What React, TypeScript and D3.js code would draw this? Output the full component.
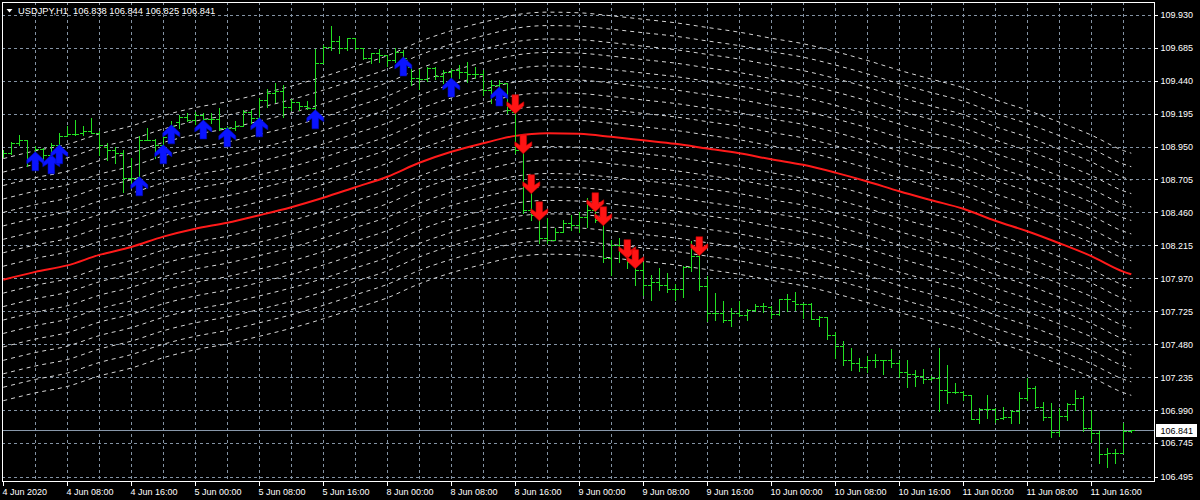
import React from 'react';
import * as d3 from 'd3';

const W = 1200;
const H = 500;

const titleText = 'USDJPY,H1  106.838 106.844 106.825 106.841';
const currentPrice = 106.841;

const priceTicks = [109.930, 109.685, 109.440, 109.195, 108.950, 108.705, 108.460, 108.215, 107.970, 107.725, 107.480, 107.235, 106.990, 106.745, 106.495];

const timeLabels = ['4 Jun 2020', '4 Jun 08:00', '4 Jun 16:00', '5 Jun 00:00', '5 Jun 08:00', '5 Jun 16:00', '8 Jun 00:00', '8 Jun 08:00', '8 Jun 16:00', '9 Jun 00:00', '9 Jun 08:00', '9 Jun 16:00', '10 Jun 00:00', '10 Jun 08:00', '10 Jun 16:00', '11 Jun 00:00', '11 Jun 08:00', '11 Jun 16:00'];
const barsPerLabel = 8;
const barsPerGrid = 4;

const opens = [
  108.888, 108.901, 108.975, 109.000, 108.851, 108.933, 108.888, 108.963, 109.025, 109.042,
  109.050, 109.062, 109.054, 108.950, 108.925, 108.901, 108.718, 108.718, 109.000, 109.000,
  108.963, 109.052, 109.133, 109.173, 109.148, 109.185, 109.155, 109.155, 109.089, 109.089,
  109.104, 109.208, 109.163, 109.297, 109.349, 109.359, 109.245, 109.284, 109.252, 109.235,
  109.574, 109.692, 109.737, 109.680, 109.755, 109.680, 109.606, 109.643, 109.631, 109.594,
  109.653, 109.544, 109.458, 109.450, 109.534, 109.475, 109.504, 109.519, 109.504, 109.490,
  109.490, 109.371, 109.408, 109.423, 109.210, 108.925, 108.480, 108.443, 108.272, 108.257,
  108.317, 108.384, 108.369, 108.428, 108.480, 108.406, 108.124, 108.220, 108.184, 108.094,
  108.034, 107.923, 107.945, 107.923, 107.893, 107.893, 108.057, 108.134, 107.910, 107.715,
  107.715, 107.658, 107.713, 107.700, 107.737, 107.767, 107.757, 107.708, 107.817, 107.799,
  107.782, 107.782, 107.668, 107.683, 107.552, 107.470, 107.366, 107.342, 107.312, 107.366,
  107.361, 107.361, 107.337, 107.272, 107.260, 107.242, 107.223, 107.230, 107.136, 107.123,
  107.123, 107.106, 106.926, 107.000, 107.000, 106.933, 106.941, 106.980, 107.082, 107.151,
  107.015, 106.938, 106.826, 106.950, 107.032, 107.082, 106.859, 106.817, 106.661, 106.674,
  106.674, 106.838,
];

const highs = [
  108.925, 108.987, 109.037, 109.000, 108.955, 108.940, 108.978, 109.050, 109.099, 109.148,
  109.099, 109.161, 109.062, 108.975, 108.950, 108.925, 108.864, 109.025, 109.087, 109.005,
  109.052, 109.136, 109.185, 109.198, 109.208, 109.200, 109.200, 109.237, 109.099, 109.136,
  109.223, 109.223, 109.312, 109.378, 109.423, 109.408, 109.304, 109.284, 109.291, 109.675,
  109.705, 109.846, 109.772, 109.755, 109.755, 109.680, 109.648, 109.673, 109.631, 109.680,
  109.668, 109.544, 109.525, 109.544, 109.539, 109.519, 109.525, 109.556, 109.581, 109.544,
  109.519, 109.445, 109.445, 109.423, 109.210, 108.987, 108.607, 108.458, 108.421, 108.346,
  108.406, 108.443, 108.465, 108.569, 108.495, 108.406, 108.257, 108.272, 108.198, 108.124,
  108.094, 107.997, 108.049, 108.012, 107.930, 108.064, 108.245, 108.146, 107.985, 107.864,
  107.799, 107.752, 107.799, 107.745, 107.782, 107.789, 107.762, 107.817, 107.856, 107.869,
  107.789, 107.789, 107.688, 107.683, 107.569, 107.502, 107.453, 107.374, 107.391, 107.411,
  107.366, 107.446, 107.366, 107.366, 107.292, 107.297, 107.242, 107.453, 107.329, 107.188,
  107.131, 107.106, 107.008, 107.099, 107.008, 107.015, 106.990, 107.123, 107.230, 107.173,
  107.049, 107.045, 107.008, 107.040, 107.138, 107.094, 106.990, 106.834, 106.711, 106.703,
  106.896, 106.844,
];

const lows = [
  108.871, 108.896, 108.963, 108.802, 108.844, 108.836, 108.866, 108.963, 109.025, 109.037,
  109.037, 109.050, 108.888, 108.851, 108.827, 108.609, 108.679, 108.654, 109.000, 108.864,
  108.950, 109.050, 109.087, 109.136, 109.119, 109.148, 109.126, 109.074, 109.037, 109.074,
  109.104, 109.124, 109.163, 109.245, 109.284, 109.173, 109.223, 109.218, 109.228, 109.223,
  109.569, 109.668, 109.643, 109.668, 109.673, 109.599, 109.574, 109.581, 109.549, 109.581,
  109.569, 109.408, 109.376, 109.440, 109.450, 109.421, 109.408, 109.458, 109.432, 109.458,
  109.334, 109.275, 109.371, 109.200, 108.901, 108.458, 108.406, 108.235, 108.235, 108.257,
  108.317, 108.331, 108.317, 108.354, 108.391, 108.094, 107.997, 108.094, 108.049, 107.923,
  107.849, 107.812, 107.886, 107.871, 107.812, 107.834, 108.022, 107.886, 107.651, 107.663,
  107.643, 107.613, 107.688, 107.658, 107.725, 107.717, 107.676, 107.700, 107.725, 107.737,
  107.676, 107.668, 107.613, 107.520, 107.379, 107.329, 107.287, 107.279, 107.272, 107.312,
  107.255, 107.312, 107.238, 107.163, 107.173, 107.193, 107.213, 106.982, 107.040, 107.119,
  107.064, 106.921, 106.891, 106.933, 106.901, 106.921, 106.891, 106.896, 107.064, 107.008,
  106.915, 106.792, 106.797, 106.915, 106.990, 106.834, 106.752, 106.594, 106.570, 106.594,
  106.668, 106.825,
];

const closes = [
  108.901, 108.975, 109.000, 108.851, 108.933, 108.888, 108.963, 109.025, 109.042, 109.042,
  109.062, 109.054, 108.963, 108.925, 108.901, 108.718, 108.718, 109.000, 109.000, 108.963,
  109.022, 109.104, 109.173, 109.148, 109.185, 109.155, 109.155, 109.089, 109.089, 109.104,
  109.208, 109.163, 109.297, 109.349, 109.359, 109.245, 109.284, 109.252, 109.235, 109.574,
  109.692, 109.737, 109.680, 109.755, 109.680, 109.606, 109.643, 109.631, 109.594, 109.653,
  109.608, 109.458, 109.450, 109.534, 109.475, 109.504, 109.519, 109.504, 109.490, 109.490,
  109.371, 109.408, 109.423, 109.223, 108.925, 108.480, 108.443, 108.272, 108.257, 108.317,
  108.384, 108.369, 108.428, 108.480, 108.406, 108.124, 108.220, 108.184, 108.094, 108.034,
  107.923, 107.945, 107.923, 107.893, 107.893, 108.057, 108.134, 107.910, 107.715, 107.715,
  107.658, 107.713, 107.700, 107.737, 107.767, 107.767, 107.708, 107.817, 107.817, 107.782,
  107.782, 107.668, 107.683, 107.552, 107.470, 107.366, 107.342, 107.312, 107.366, 107.361,
  107.361, 107.337, 107.272, 107.260, 107.242, 107.223, 107.230, 107.136, 107.123, 107.123,
  107.106, 106.926, 107.000, 107.000, 106.926, 106.941, 106.980, 107.082, 107.151, 107.015,
  106.938, 106.826, 106.950, 107.032, 107.082, 106.859, 106.817, 106.661, 106.674, 106.674,
  106.838, 106.841,
];

// centre line (red) read at every 4th bar, plus the last bar
const maBars = [0, 4, 8, 12, 16, 20, 24, 28, 32, 36, 40, 44, 48, 52, 56, 60, 64, 68, 72, 76, 80, 84, 88, 92, 96, 100, 104, 108, 112, 116, 120, 124, 128, 132, 136, 140, 141];
const maValues = [107.960, 108.018, 108.066, 108.144, 108.203, 108.280, 108.339, 108.383, 108.439, 108.499, 108.569, 108.647, 108.725, 108.829, 108.911, 108.974, 109.029, 109.049, 109.044, 109.022, 108.996, 108.970, 108.935, 108.900, 108.855, 108.814, 108.756, 108.690, 108.617, 108.551, 108.487, 108.398, 108.320, 108.231, 108.135, 108.020, 108.000];
const bandStep = 0.1;
const bandCount = 9;

// signal arrows: bar index and price of the arrow tip
const upArrowBars = [4, 6, 7, 17, 20, 21, 25, 28, 32, 39, 50, 56, 62];
const upArrowPrices = [108.911, 108.888, 108.963, 108.725, 108.963, 109.111, 109.148, 109.089, 109.163, 109.223, 109.616, 109.460, 109.393];
const downArrowBars = [64, 65, 66, 67, 74, 75, 78, 79, 87];
const downArrowPrices = [109.193, 108.896, 108.599, 108.398, 108.465, 108.361, 108.116, 108.042, 108.138];

const FONT = '"Liberation Sans", Arial, sans-serif';
const BAR_COLOR = '#22e022';
const GRID_COLOR = '#8493a4';
const BAND_COLOR = '#d6d6d6';

const plotLeft = 2;
const plotTop = 2;
const plotRight = 1154;
const plotBottom = 481;

export default function App() {
  const n = opens.length;
  const x = d3.scaleLinear().domain([0, n - 1]).range([3.3, 3.3 + 8 * (n - 1)]);
  const y = d3.scaleLinear().domain([106.495, 109.930]).range([476.7, 14.7]);
  const cx = (i: number) => Math.round(x(i)) + 0.5;
  const cy = (p: number) => Math.round(y(p)) + 0.5;

  const maPts = maBars.map((b, i) => [b, maValues[i]] as [number, number]);
  const lineGen = (offset: number) =>
    d3
      .line<[number, number]>()
      .x((d) => x(d[0]))
      .y((d) => y(d[1] + offset))
      .curve(d3.curveMonotoneX)(maPts) || '';

  const bandOffsets: number[] = [];
  for (let k = 1; k <= bandCount; k++) {
    bandOffsets.push(k * bandStep);
    bandOffsets.push(-k * bandStep);
  }

  const gridBars: number[] = [];
  for (let b = barsPerGrid; b < n; b += barsPerGrid) gridBars.push(b);

  const upArrow = 'M0,0 L8.5,8 L8.5,12 L3.3,8.6 L3.3,19 L-3.3,19 L-3.3,8.6 L-8.5,12 L-8.5,8 Z';
  const downArrow = 'M0,0 L8.5,-8 L8.5,-12 L3.3,-8.6 L3.3,-19 L-3.3,-19 L-3.3,-8.6 L-8.5,-12 L-8.5,-8 Z';

  const curY = cy(currentPrice);

  return (
    <svg
      width={W}
      height={H}
      style={{ position: 'absolute', left: 0, top: 0, display: 'block', background: '#000' }}
      fontFamily={FONT}
    >
      <defs>
        <clipPath id="plotClip">
          <rect x={plotLeft + 1} y={plotTop + 1} width={plotRight - plotLeft - 1} height={plotBottom - plotTop - 1} />
        </clipPath>
      </defs>
      <rect x={0} y={0} width={W} height={H} fill="#000" />

      {/* grid */}
      <g stroke={GRID_COLOR} strokeWidth={1} strokeDasharray="3 3" shapeRendering="crispEdges">
        {priceTicks.map((p) => (
          <line key={'h' + p} x1={plotLeft} x2={plotRight} y1={cy(p)} y2={cy(p)} />
        ))}
        {gridBars.map((b) => (
          <line key={'v' + b} x1={cx(b)} x2={cx(b)} y1={plotTop} y2={plotBottom} />
        ))}
      </g>

      <g clipPath="url(#plotClip)">
        {/* envelope bands */}
        <g fill="none" stroke={BAND_COLOR} strokeWidth={1} strokeDasharray="4 4">
          {bandOffsets.map((o) => (
            <path key={'b' + o} d={lineGen(o)} />
          ))}
        </g>
        {/* centre line */}
        <path d={lineGen(0)} fill="none" stroke="#ff1a1a" strokeWidth={2} />

        {/* current price line */}
        <line x1={plotLeft} x2={plotRight} y1={curY} y2={curY} stroke="#8898aa" strokeWidth={1} shapeRendering="crispEdges" />

        {/* OHLC bars */}
        <g stroke={BAR_COLOR} strokeWidth={1} shapeRendering="crispEdges">
          {opens.map((o, i) => {
            const xi = cx(i);
            const hi = Math.max(highs[i], o, closes[i]);
            const lo = Math.min(lows[i], o, closes[i]);
            return (
              <g key={'bar' + i}>
                <line x1={xi} x2={xi} y1={cy(hi) - 0.5} y2={cy(lo) + 0.5} />
                <line x1={xi - 3.5} x2={xi} y1={cy(o)} y2={cy(o)} />
                <line x1={xi} x2={xi + 3.5} y1={cy(closes[i])} y2={cy(closes[i])} />
              </g>
            );
          })}
        </g>

        {/* arrows */}
        {upArrowBars.map((b, i) => (
          <path key={'ua' + i} d={upArrow} transform={`translate(${x(b)},${y(upArrowPrices[i])})`} fill="#0a14ff" stroke="#0008c0" strokeWidth={0.6} />
        ))}
        {downArrowBars.map((b, i) => (
          <path key={'da' + i} d={downArrow} transform={`translate(${x(b)},${y(downArrowPrices[i])})`} fill="#ff1414" stroke="#c00000" strokeWidth={0.6} />
        ))}
      </g>

      {/* frame */}
      <rect x={plotLeft + 0.5} y={plotTop + 0.5} width={plotRight - plotLeft} height={plotBottom - plotTop} fill="none" stroke="#ffffff" strokeWidth={1} shapeRendering="crispEdges" />

      {/* price axis */}
      <g fill="#ffffff" fontSize={9}>
        {priceTicks.map((p) => (
          <g key={'pl' + p}>
            <line x1={plotRight} x2={plotRight + 4} y1={cy(p)} y2={cy(p)} stroke="#ffffff" shapeRendering="crispEdges" />
            <text x={1160.5} y={y(p) + 3.4}>{p.toFixed(3)}</text>
          </g>
        ))}
      </g>

      {/* current price label */}
      <rect x={1156} y={curY - 6.5} width={41} height={13} fill="#ffffff" />
      <text x={1160.5} y={curY + 3.6} fontSize={9} fill="#000000">{currentPrice.toFixed(3)}</text>

      {/* time axis */}
      <g fill="#ffffff" fontSize={9}>
        {timeLabels.map((t, k) => {
          const xi = cx(k * barsPerLabel);
          return (
            <g key={'tl' + k}>
              <line x1={xi} x2={xi} y1={plotBottom} y2={plotBottom + 5} stroke="#ffffff" shapeRendering="crispEdges" />
              <text x={xi - 1} y={494.5}>{t}</text>
            </g>
          );
        })}
      </g>

      {/* title */}
      <path d="M6.5,9 L12.5,9 L9.5,12.5 Z" fill="#ffffff" />
      <text x={18} y={13.6} fontSize={9.3} fill="#ffffff" style={{ whiteSpace: 'pre' }}>{titleText}</text>
    </svg>
  );
}
